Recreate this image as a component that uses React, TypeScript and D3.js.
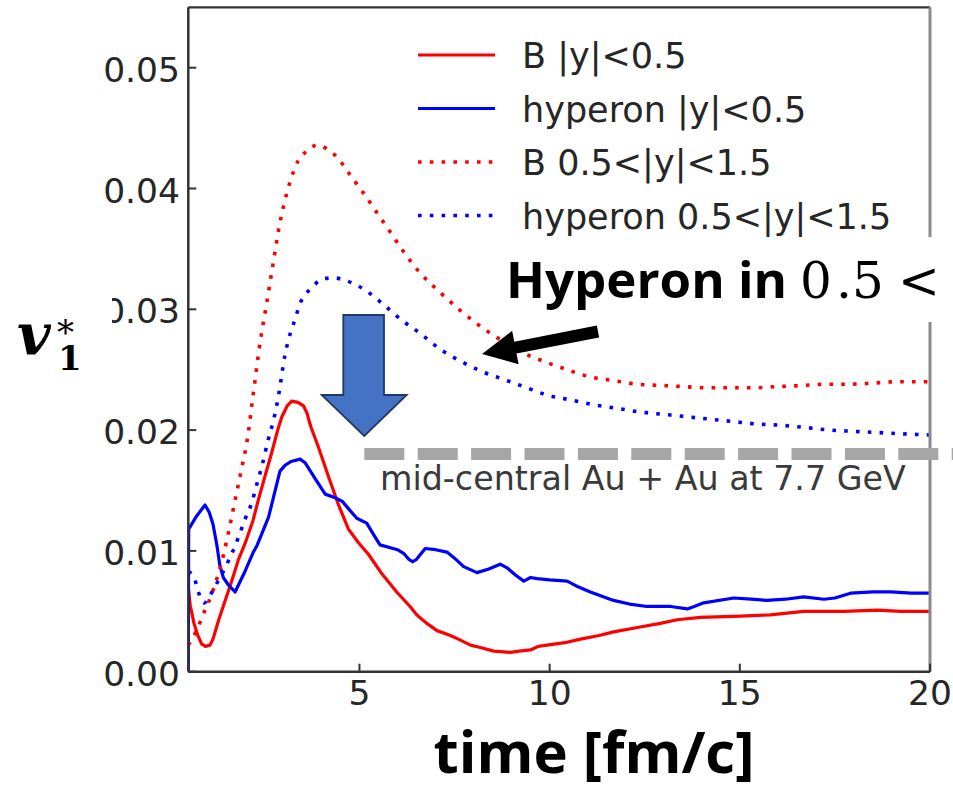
import React from "react";
import * as d3 from "d3";

// ---------- data ----------
const xTicks = [5, 10, 15, 20];
const yTicks = [0.0, 0.01, 0.02, 0.03, 0.04, 0.05];
const yTickLabels = ["0.00", "0.01", "0.02", "0.03", "0.04", "0.05"];

const legendLabels = [
  "B |y|<0.5",
  "hyperon |y|<0.5",
  "B 0.5<|y|<1.5",
  "hyperon 0.5<|y|<1.5",
];

// B |y|<0.5 (red solid)
const bMid: [number, number][] = [
  [0.5, 0.007], [0.55, 0.0055], [0.65, 0.004], [0.75, 0.003], [0.85, 0.0023],
  [0.95, 0.0021], [1.07, 0.0022], [1.15, 0.0027], [1.3, 0.0043], [1.47, 0.0059],
  [1.65, 0.0076], [1.82, 0.0093], [1.99, 0.0106], [2.2, 0.0125], [2.34, 0.0142],
  [2.5, 0.016], [2.69, 0.0181], [2.85, 0.02], [2.96, 0.0211], [3.1, 0.022],
  [3.22, 0.0224], [3.38, 0.0223], [3.53, 0.022], [3.62, 0.0214], [3.72, 0.0203],
  [3.92, 0.0186], [4.18, 0.0162], [4.45, 0.0138], [4.71, 0.0118], [4.97, 0.0107],
  [5.24, 0.0097], [5.59, 0.0081], [5.98, 0.0066], [6.33, 0.0054], [6.51, 0.0047],
  [6.77, 0.004], [7.04, 0.0034], [7.39, 0.003], [7.6, 0.0027], [7.92, 0.0022],
  [8.18, 0.002], [8.53, 0.0017], [8.97, 0.0016], [9.2, 0.0017], [9.5, 0.0018],
  [9.7, 0.0021], [9.93, 0.0022], [10.4, 0.0024], [10.81, 0.0027], [11.3, 0.003],
  [11.68, 0.0033], [12.38, 0.0037], [12.91, 0.004], [13.35, 0.0043], [13.96, 0.0045],
  [15.02, 0.0046], [15.8, 0.0047], [16.68, 0.005], [17.74, 0.005], [18.62, 0.0051],
  [19.23, 0.005], [20, 0.005],
];

// hyperon |y|<0.5 (blue solid)
const hMid: [number, number][] = [
  [0.5, 0.0], [0.51, 0.0118], [0.7, 0.0128], [0.94, 0.0138], [1.05, 0.0132],
  [1.15, 0.0122], [1.25, 0.0105], [1.33, 0.0088], [1.42, 0.0078], [1.55, 0.0072],
  [1.73, 0.0066], [1.99, 0.0083], [2.21, 0.0099], [2.3, 0.0104], [2.61, 0.0128],
  [2.91, 0.0166], [3.05, 0.0171], [3.2, 0.0174], [3.44, 0.0176], [3.57, 0.0173],
  [3.83, 0.016], [4.1, 0.0147], [4.36, 0.0144], [4.55, 0.0141], [4.71, 0.0135],
  [4.93, 0.0127], [5.19, 0.0123], [5.4, 0.0112], [5.54, 0.0105], [6.0, 0.0101],
  [6.16, 0.0098], [6.3, 0.0093], [6.4, 0.0091], [6.5, 0.0093], [6.73, 0.0102],
  [7.0, 0.0101], [7.3, 0.0099], [7.5, 0.0094], [7.74, 0.0087], [8.09, 0.0082],
  [8.4, 0.0085], [8.7, 0.0089], [8.88, 0.0086], [9.1, 0.008], [9.32, 0.0075],
  [9.5, 0.0078], [9.67, 0.0077], [10.0, 0.0076], [10.46, 0.0075], [10.7, 0.0071],
  [11.07, 0.0066], [11.68, 0.0059], [12.1, 0.0056], [12.56, 0.0054], [13.18, 0.0054],
  [13.62, 0.0052], [13.8, 0.0054], [14.05, 0.0057], [14.84, 0.0061], [15.3, 0.006],
  [15.72, 0.0059], [16.2, 0.006], [16.68, 0.0062], [17.21, 0.006], [17.5, 0.0061],
  [17.91, 0.0065], [18.5, 0.0066], [18.97, 0.0066], [19.5, 0.0065], [20, 0.0065],
];

// B 0.5<|y|<1.5 (red dotted)
const bFwd: [number, number][] = [
  [0.5, 0.0022], [0.7, 0.0033], [0.9, 0.0048], [1.1, 0.0063], [1.3, 0.0082],
  [1.45, 0.01], [1.6, 0.0122], [1.75, 0.0145], [1.9, 0.0168], [2.05, 0.0192],
  [2.2, 0.0228], [2.4, 0.0275], [2.56, 0.0305], [2.74, 0.034], [2.87, 0.0365],
  [3.0, 0.0385], [3.18, 0.0406], [3.39, 0.0423], [3.62, 0.0431], [3.88, 0.0436],
  [4.18, 0.0432], [4.41, 0.0426], [4.76, 0.0411], [5.11, 0.0396], [5.46, 0.038],
  [5.85, 0.0362], [6.2, 0.0346], [6.6, 0.033], [7.12, 0.0314], [7.65, 0.0299],
  [8.09, 0.0288], [8.7, 0.0275], [9.23, 0.0265], [9.84, 0.0257], [10.46, 0.025],
  [11.07, 0.0244], [11.68, 0.0241], [12.3, 0.0238], [12.91, 0.0237], [13.53, 0.0236],
  [14.14, 0.0235], [14.75, 0.0235], [15.37, 0.0235], [15.98, 0.0236], [16.68, 0.0237],
  [17.3, 0.0238], [17.91, 0.0238], [18.53, 0.0239], [19.14, 0.024], [20, 0.024],
];

// hyperon 0.5<|y|<1.5 (blue dotted)
const hFwd: [number, number][] = [
  [0.5, 0.0083], [0.65, 0.0078], [0.8, 0.0063], [0.92, 0.0057], [1.05, 0.0062],
  [1.16, 0.0068], [1.3, 0.0076], [1.47, 0.0086], [1.6, 0.0095], [1.73, 0.0104],
  [1.86, 0.0115], [1.99, 0.0126], [2.17, 0.014], [2.3, 0.0155], [2.45, 0.0172],
  [2.6, 0.0192], [2.74, 0.0208], [2.87, 0.0228], [3.04, 0.0262], [3.18, 0.028],
  [3.31, 0.0292], [3.44, 0.0305], [3.6, 0.0313], [3.78, 0.0319], [4.01, 0.0325],
  [4.32, 0.0326], [4.62, 0.0324], [4.93, 0.032], [5.19, 0.0315], [5.63, 0.0304],
  [6.11, 0.0291], [6.6, 0.028], [7.12, 0.0267], [7.6, 0.0258], [7.91, 0.0253],
  [8.18, 0.0249], [8.79, 0.0242], [9.32, 0.0236], [9.93, 0.0229], [10.55, 0.0225],
  [11.16, 0.0221], [11.77, 0.0218], [12.38, 0.0215], [13.0, 0.0213], [13.62, 0.0211],
  [14.23, 0.0209], [14.84, 0.0207], [15.46, 0.0205], [16.07, 0.0204], [16.77, 0.0202],
  [17.38, 0.02], [17.99, 0.0199], [18.61, 0.0198], [19.23, 0.0197], [20, 0.0196],
];

const seriesData = [bMid, hMid, bFwd, hFwd];
const seriesColors = ["#ff0000", "#0000ff", "#ff0000", "#0000ff"];
const seriesDotted = [false, false, true, true];

// ---------- layout ----------
const W = 953;
const H = 790;
const L = 188.3;
const R = 930;
const T = 7.3;
const B = 671.7;

export default function App() {
  const x = d3.scaleLinear().domain([0.5, 20]).range([L, R]);
  const y = d3.scaleLinear().domain([0, 0.055]).range([B, T]);
  const lineLinear = d3
    .line<[number, number]>()
    .x((d) => x(d[0]))
    .y((d) => y(d[1]));
  const lineSmooth = d3
    .line<[number, number]>()
    .x((d) => x(d[0]))
    .y((d) => y(d[1]))
    .curve(d3.curveMonotoneX);

  const tickFont = "'DejaVu Sans', sans-serif";
  const tickColor = "#262626";
  const dotDash = "3.6 8.2";

  // black annotation arrow (pixel geometry of the overlay)
  const tail = [598, 331.5];
  const tip = [482, 354];
  const dx = tip[0] - tail[0];
  const dy = tip[1] - tail[1];
  const len = Math.hypot(dx, dy);
  const ux = dx / len;
  const uy = dy / len;
  const px = -uy;
  const py = ux;
  const headLen = 34;
  const headHalf = 17;
  const shaftHalf = 6;
  const hb = [tip[0] - ux * headLen, tip[1] - uy * headLen];
  const arrowPts = [
    [tail[0] + px * shaftHalf, tail[1] + py * shaftHalf],
    [hb[0] + px * shaftHalf, hb[1] + py * shaftHalf],
    [hb[0] + px * headHalf, hb[1] + py * headHalf],
    tip,
    [hb[0] - px * headHalf, hb[1] - py * headHalf],
    [hb[0] - px * shaftHalf, hb[1] - py * shaftHalf],
    [tail[0] - px * shaftHalf, tail[1] - py * shaftHalf],
  ]
    .map((p) => p.join(","))
    .join(" ");

  // blue down arrow
  const blueArrow = [
    [343.3, 315],
    [384, 315],
    [384, 395],
    [406.7, 395],
    [364.3, 436],
    [321.7, 395],
    [343.3, 395],
  ]
    .map((p) => p.join(","))
    .join(" ");

  return (
    <svg
      width={W}
      height={H}
      style={{ position: "absolute", left: 0, top: 0, background: "#fff" }}
    >
      <defs>
        <clipPath id="plotclip">
          <rect x={L} y={T} width={R - L} height={B - T} />
        </clipPath>
      </defs>
      <rect x={0} y={0} width={W} height={H} fill="#fff" />

      {/* data lines */}
      <g clipPath="url(#plotclip)">
        {seriesData.map((d, i) => (
          <path
            key={i}
            d={(seriesDotted[i] ? lineSmooth : lineLinear)(d) || ""}
            fill="none"
            stroke={seriesColors[i]}
            strokeWidth={seriesDotted[i] ? 3.6 : 3.2}
            strokeDasharray={seriesDotted[i] ? dotDash : undefined}
            strokeLinejoin="round"
          />
        ))}
      </g>

      {/* spines */}
      <line x1={L} y1={T} x2={R} y2={T} stroke="#333" strokeWidth={2.2} />
      <line x1={R} y1={T} x2={R} y2={B} stroke="#8a8a8a" strokeWidth={3} />
      <line x1={L} y1={T} x2={L} y2={B} stroke="#333" strokeWidth={2.5} />
      <line x1={L} y1={B} x2={R} y2={B} stroke="#333" strokeWidth={2.5} />

      {/* y ticks */}
      {yTicks.map((v, i) => (
        <g key={"y" + i}>
          <line x1={L} x2={L + 8} y1={y(v)} y2={y(v)} stroke="#333" strokeWidth={2} />
          <text
            x={180}
            y={y(v) + 14}
            textAnchor="end"
            fontFamily={tickFont}
            fontSize={34.5}
            fill={tickColor}
          >
            {yTickLabels[i]}
          </text>
        </g>
      ))}

      {/* x ticks */}
      {xTicks.map((t, i) => (
        <g key={"x" + i}>
          <line x1={x(t)} x2={x(t)} y1={B} y2={B - 8} stroke="#333" strokeWidth={2} />
          <text
            x={x(t)}
            y={B + 33.5}
            textAnchor="middle"
            fontFamily={tickFont}
            fontSize={34.5}
            fill={tickColor}
          >
            {t}
          </text>
        </g>
      ))}

      {/* legend */}
      {legendLabels.map((lab, i) => {
        const ly = 55 + i * 53.5;
        return (
          <g key={"lg" + i}>
            <line
              x1={418}
              x2={495}
              y1={ly}
              y2={ly}
              stroke={seriesColors[i]}
              strokeWidth={seriesDotted[i] ? 3.6 : 3.2}
              strokeDasharray={seriesDotted[i] ? dotDash : undefined}
            />
            <text
              x={522}
              y={ly + 13}
              fontFamily={tickFont}
              fontSize={35}
              fill={tickColor}
            >
              {lab}
            </text>
          </g>
        );
      })}

      {/* y label box */}
      <rect x={0} y={250} width={112} height={140} fill="#fff" />
      <text fontFamily="'DejaVu Serif', serif" fill="#000">
        <tspan x={17} y={355} fontWeight="bold" fontStyle="italic" fontSize={58}>
          v
        </tspan>
        <tspan x={57} y={344} fontSize={34}>
          *
        </tspan>
        <tspan x={58} y={370} fontWeight="bold" fontSize={34}>
          1
        </tspan>
      </text>

      {/* annotation text box */}
      <rect x={495} y={237} width={W - 495} height={85} fill="#fff" />
      <text
        x={506}
        y={298.3}
        fontFamily="'Open Sans', sans-serif"
        fontWeight="bold"
        fontSize={51}
        fill="#000"
      >
        Hyperon in
      </text>
      <text
        y={298.3}
        fontFamily="'DejaVu Serif', serif"
        fontSize={50}
        fill="#000"
      >
        <tspan x={800}>0</tspan>
        <tspan x={836}>.</tspan>
        <tspan x={852}>5</tspan>
        <tspan x={898}>&lt;</tspan>
      </text>

      {/* black arrow */}
      <polygon points={arrowPts} fill="#000" />

      {/* blue arrow */}
      <polygon points={blueArrow} fill="#4472c4" stroke="#1f3864" strokeWidth={1.8} />

      {/* gray dashed line */}
      <line
        x1={364.3}
        x2={W + 10}
        y1={454}
        y2={454}
        stroke="#a6a6a6"
        strokeWidth={12}
        strokeDasharray="40 13.4"
      />
      <text
        x={380}
        y={490}
        fontFamily={tickFont}
        fontSize={33.3}
        fill="#3a3a3a"
      >
        mid-central Au + Au at 7.7 GeV
      </text>

      {/* x axis title */}
      <text
        x={594}
        y={773}
        textAnchor="middle"
        fontFamily="'Open Sans', sans-serif"
        fontWeight="bold"
        fontSize={58}
        fill="#000"
      >
        time [fm/c]
      </text>
    </svg>
  );
}
